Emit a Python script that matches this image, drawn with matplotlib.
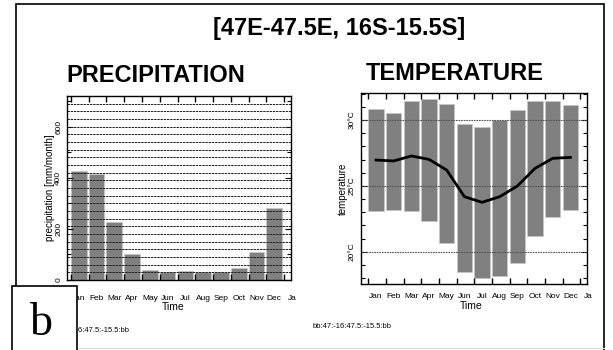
import matplotlib
matplotlib.use("Agg")
import matplotlib.pyplot as plt
from matplotlib.patches import Rectangle
from matplotlib.lines import Line2D

W, H = 613, 350

month_labels = ["Jan", "Feb", "Mar", "Apr", "May", "Jun", "Jul",
                "Aug", "Sep", "Oct", "Nov", "Dec", "Ja"]
precip = [426, 415, 228, 101, 41, 30, 35, 30, 30, 46, 111, 280]
precip_ticks = [0, 200, 400, 600]
temp_max = [30.84, 30.53, 31.42, 31.59, 31.19, 29.72, 29.49, 30.03, 30.76, 31.42, 31.47, 31.14]
temp_min = [23.10, 23.15, 23.10, 22.37, 20.67, 18.47, 18.01, 18.16, 19.13, 21.20, 22.65, 23.20]
temp_mean = [26.96, 26.89, 27.27, 27.01, 26.20, 24.18, 23.75, 24.18, 24.99, 26.33, 27.09, 27.16]
temp_ticks = [20, 25, 30]
temp_tick_labels = ["20°C", "25°C", "30°C"]

title = "[47E-47.5E, 16S-15.5S]"
region_tag = "bb:47:-16:47.5:-15.5:bb"

plt.rcParams["font.family"] = ["Liberation Sans", "DejaVu Sans"]


def fx(px):
    return px / W


def fy(py):
    return 1 - py / H


def axes_rect(left, top, right, bottom):
    return [fx(left), fy(bottom), fx(right - left), (bottom - top) / H]


fig = plt.figure(figsize=(W / 100, H / 100), dpi=100)

# outer frame
fig.add_artist(Rectangle((fx(16), fy(360)), fx(604 - 16), (360 - 4) / H,
                         transform=fig.transFigure, fill=False,
                         edgecolor="black", linewidth=1.2))
fig.add_artist(Line2D([fx(78), fx(604)], [fy(348), fy(348)],
                      transform=fig.transFigure, color="#dddddd", linewidth=0.8))

fig.text(fx(339), fy(28), title, ha="center", va="center",
         fontsize=17, fontweight="bold")
fig.text(fx(156), fy(75), "PRECIPITATION", ha="center", va="center",
         fontsize=17, fontweight="bold")
fig.text(fx(455), fy(73), "TEMPERATURE", ha="center", va="center",
         fontsize=17, fontweight="bold")

n = len(precip)
x = list(range(n))
bar_w = 0.88

# precipitation panel
ax1 = fig.add_axes(axes_rect(67, 96, 291, 280))
ax1.bar(x, precip, width=bar_w, align="edge", color="#808080",
        edgecolor="#c8c8c8", linewidth=0.4, zorder=1)
for level in range(30, 720, 30):
    ax1.axhline(level, color="#222222", linewidth=0.7,
                linestyle=(0, (2.5, 0.8)), zorder=2)
ax1.set_xlim(-0.22, 12.38)
ax1.set_ylim(0, 720)
ax1.set_yticks(precip_ticks)
ax1.set_yticks(range(100, 720, 100), minor=True)
ax1.set_yticklabels([str(t) for t in precip_ticks], rotation=90,
                    va="center", fontsize=6)
ax1.set_ylabel("precipitation [mm/month]", fontsize=7, labelpad=0)
for i, lab in enumerate(month_labels):
    ax1.text(i + bar_w / 2, -19 / 184, lab, transform=ax1.get_xaxis_transform(),
             ha="center", va="center", fontsize=6, clip_on=False)
ax1.text((173 - 67) / 224, -27.5 / 184, "Time", transform=ax1.transAxes,
         ha="center", va="center", fontsize=7.5)

# temperature panel
ax2 = fig.add_axes(axes_rect(361, 93, 587, 284))
heights = [hi - lo for hi, lo in zip(temp_max, temp_min)]
ax2.bar(x[:12], heights, bottom=temp_min, width=bar_w, align="edge",
        color="#808080", edgecolor="#c8c8c8", linewidth=0.4, zorder=1)
for t in temp_ticks:
    ax2.axhline(t, color="#555555", linewidth=0.8,
                linestyle=(0, (1.5, 0.8)), zorder=2)
ax2.plot([i + bar_w / 2 for i in x[:12]], temp_mean, color="black",
         linewidth=2, solid_joinstyle="round", zorder=3)
ax2.set_xlim(-0.41, 12.38)
ax2.set_ylim(17.55, 32.05)
ax2.set_yticks(temp_ticks)
ax2.set_yticks(range(18, 33), minor=True)
ax2.set_yticklabels(temp_tick_labels, rotation=90, va="center", fontsize=6)
ax2.set_ylabel("temperature", fontsize=7, labelpad=0.5)
for i, lab in enumerate(month_labels):
    ax2.text(i + bar_w / 2, -12.7 / 191, lab, transform=ax2.get_xaxis_transform(),
             ha="center", va="center", fontsize=6, clip_on=False)
ax2.text((471 - 361) / 226, -22 / 191, "Time", transform=ax2.transAxes,
         ha="center", va="center", fontsize=7.5)

for ax, ypad in ((ax1, 3.5), (ax2, 4)):
    ax.set_xticks(range(13))
    ax.set_xticklabels([])
    ax.tick_params(axis="x", which="both", direction="in", top=True,
                   bottom=True, length=4, width=1, color="black")
    ax.tick_params(axis="y", which="both", direction="in", left=True,
                   right=True, width=0.8, pad=ypad)
    ax.tick_params(axis="y", which="major", length=4)
    ax.tick_params(axis="y", which="minor", length=3)
    for s in ax.spines.values():
        s.set_linewidth(1)

fig.text(fx(51), fy(331), region_tag, ha="left", va="center", fontsize=5.4)
fig.text(fx(313), fy(326), region_tag, ha="left", va="center", fontsize=5.4)

# panel letter box
fig.add_artist(Rectangle((fx(12), fy(360)), fx(77 - 12), (360 - 286) / H,
                         transform=fig.transFigure, facecolor="white",
                         edgecolor="black", linewidth=1.2, zorder=5))
fig.text(fx(41), fy(324), "b", ha="center", va="center", fontsize=33,
         family=["Liberation Serif", "DejaVu Serif"], zorder=6)

fig.savefig("out.png", dpi=100)
